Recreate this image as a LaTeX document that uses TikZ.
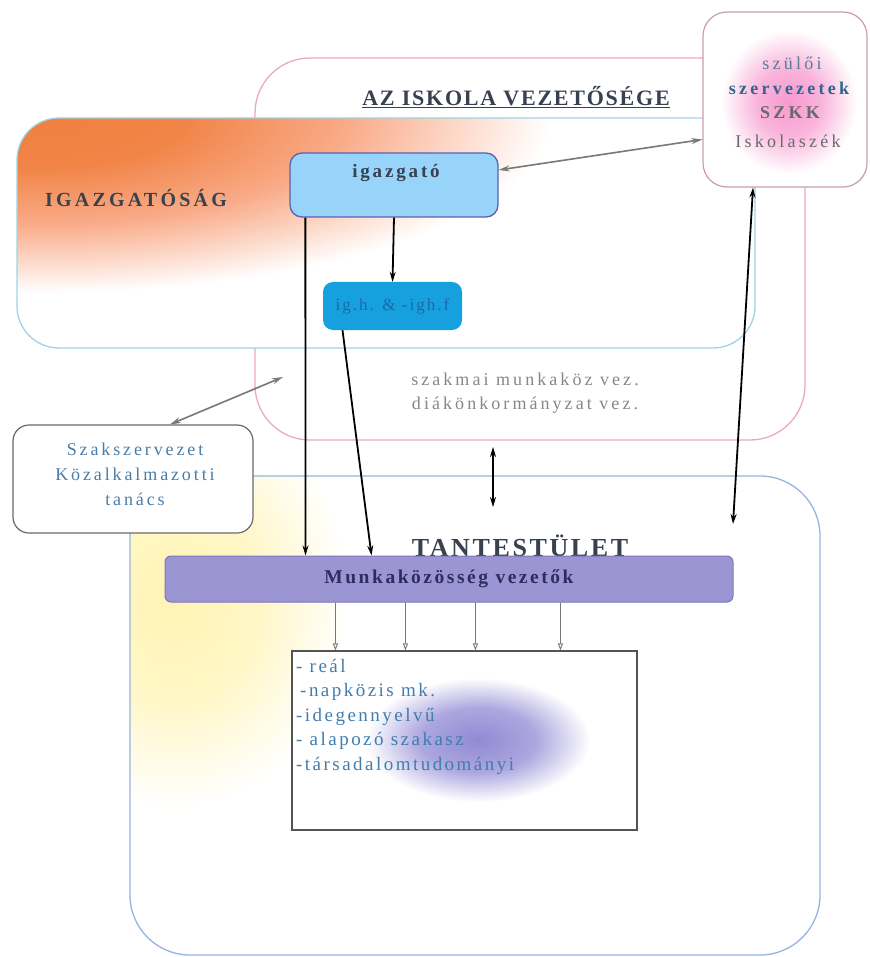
\documentclass[tikz,border=0pt]{standalone}
\usepackage{fontspec}
\setmainfont{Liberation Serif}
\usetikzlibrary{arrows.meta}
\definecolor{pinkline}{RGB}{236,170,185}
\definecolor{cyanline}{RGB}{160,212,228}
\definecolor{blueline}{RGB}{150,180,225}
\definecolor{orng}{RGB}{240,128,64}
\definecolor{salmon}{RGB}{249,170,135}
\definecolor{igazfill}{RGB}{152,212,250}
\definecolor{igazdraw}{RGB}{95,95,175}
\definecolor{ighfill}{RGB}{22,160,222}
\definecolor{ightext}{RGB}{30,105,165}
\definecolor{munkafill}{RGB}{156,149,211}
\definecolor{munkadraw}{RGB}{125,118,185}
\definecolor{munkatext}{RGB}{45,45,95}
\definecolor{graytext}{RGB}{105,105,110}
\definecolor{bluetext}{RGB}{65,125,175}
\definecolor{darktext}{RGB}{55,65,80}
\definecolor{pinkglow}{RGB}{245,120,190}
\definecolor{purpleglow}{RGB}{145,138,212}
\definecolor{yellowglow}{RGB}{255,244,180}
\definecolor{arrowgray}{RGB}{120,120,120}
\pgfdeclareradialshading{orfade}{\pgfpoint{0bp}{0bp}}{color(0bp)=(orng); color(7bp)=(orng!90!salmon); color(15bp)=(salmon); color(25bp)=(white); color(50bp)=(white)}
\pgfdeclareradialshading{pinkfade}{\pgfpoint{0bp}{0bp}}{color(0bp)=(pinkglow!75); color(12bp)=(pinkglow!55); color(25bp)=(white); color(50bp)=(white)}
\pgfdeclareradialshading{purplefade}{\pgfpoint{0bp}{0bp}}{color(0bp)=(purpleglow); color(13bp)=(purpleglow!75); color(25bp)=(white); color(50bp)=(white)}
\pgfdeclareradialshading{yellowfade}{\pgfpoint{0bp}{0bp}}{color(0bp)=(yellowglow); color(12bp)=(yellowglow!75); color(25bp)=(white); color(50bp)=(white)}
\tikzset{
  sidebox/.style={draw=#1, line width=1.2pt, fill=white, rounded corners=16pt},
  darr/.style={line width=1.8pt, black, -{Stealth[length=10pt,width=6pt]}},
  ddarr/.style={line width=1.8pt, black, {Stealth[length=10pt,width=6pt]}-{Stealth[length=10pt,width=6pt]}},
  garr/.style={line width=1.6pt, arrowgray, {Stealth[open,length=11pt,width=6pt]}-{Stealth[open,length=11pt,width=6pt]}},
  smallarr/.style={line width=0.9pt, arrowgray, -{Triangle[open,length=7pt,width=5pt]}},
  lbl/.style={inner sep=0pt},
}
\newcommand{\wfont}[2]{\fontsize{#1}{#1}\selectfont\addfontfeature{LetterSpace=#2}}
\begin{document}
\begin{tikzpicture}[x=1pt,y=-1pt]
\useasboundingbox[fill=white] (0,0) rectangle (869,957);
% --- AZ ISKOLA VEZETOSEGE (pink) frame
\draw[pinkline, line width=1.3pt, rounded corners=55pt] (255,58) rectangle (805,440);
% --- TANTESTULET (blue) frame with yellow glow
\begin{scope}
  \clip[rounded corners=60pt] (130,476) rectangle (820,955);
  \shade[shading=yellowfade] (175,600) ellipse (175pt and 210pt);
\end{scope}
\draw[blueline, line width=1.3pt, rounded corners=60pt] (130,476) rectangle (820,955);
% --- IGAZGATOSAG frame with orange glow
\begin{scope}
  \clip[rounded corners=42pt] (17,118) rectangle (755,348);
  \fill[white] (17,118) rectangle (755,348);
  \shade[shading=orfade] (40,118) ellipse (510pt and 175pt);
\end{scope}
\draw[cyanline, line width=1.3pt, rounded corners=42pt] (17,118) rectangle (755,348);
% named coordinates on frames
\coordinate (pinkA) at (283,377);
\coordinate (pinkB) at (493,447);
\coordinate (blueA) at (493,507);
\coordinate (blueB) at (733,524);
% --- szuloi box
\node[sidebox=pinkline!70!gray, minimum width=164pt, minimum height=175pt, rounded corners=24pt] (szulo) at (785,99.5) {};
\shade[shading=pinkfade] (789,102) ellipse (68pt and 72pt);
\node[lbl, text=bluetext!70!gray, font=\wfont{18}{18}] at (792,63) {szülői};
\node[lbl, text=bluetext!80!black, font=\wfont{18}{18}\bfseries] at (789,88) {szervezetek};
\node[lbl, text=graytext, font=\wfont{18}{18}\bfseries] at (790,113) {SZKK};
\node[lbl, text=graytext, font=\wfont{18}{18}] at (788,141) {Iskolaszék};
% --- titles
\node[lbl, text=darktext, font=\wfont{22}{8}\bfseries] at (516,97) {\underline{AZ ISKOLA VEZETŐSÉGE}};
\node[lbl, text=darktext, font=\wfont{20}{16}\bfseries] at (136,198) {IGAZGATÓSÁG};
% --- igazgato
\node[draw=igazdraw, line width=1.3pt, fill=igazfill, rounded corners=12pt, minimum width=208pt, minimum height=64pt] (igaz) at (394,185) {};
\node[lbl, text=darktext, font=\wfont{19}{15}\bfseries] at (396,173) {igazgató};
% --- ig.h. box
\node[fill=ighfill, rounded corners=10pt, minimum width=139pt, minimum height=48pt, text=ightext, font=\wfont{17}{12}] (igh) at (392.5,306) {ig.h. \& -igh.f};
% --- union box
\node[sidebox=graytext, minimum width=240pt, minimum height=108pt] (union) at (133,479) {};
\node[lbl, text=bluetext!85!gray, align=center, font=\wfont{18}{16}] at (135,474) {Szakszervezet\\[7pt]Közalkalmazotti\\[7pt]tanács};
% --- middle text
\node[lbl, text=graytext!80, align=center, font=\wfont{18}{17}] at (525,393) {szakmai munkaköz vez.\\[6pt]diákönkormányzat vez.};
% --- TANTESTULET and Munkakozosseg vezetok
\node[lbl, text=darktext, font=\wfont{26}{10}\bfseries] at (520,546) {TANTESTÜLET};
\node[draw=munkadraw, line width=1pt, fill=munkafill, rounded corners=6pt, minimum width=568pt, minimum height=46pt, text=munkatext, font=\wfont{19.5}{13}\bfseries] (munka) at (449,579) {Munkaközösség vezetők};
% --- list box
\node[draw=graytext!80!black, line width=1.1pt, fill=white, minimum width=345pt, minimum height=179pt] (lst) at (464.5,740.5) {};
\shade[shading=purplefade] (478,740) ellipse (112pt and 62pt);
\node[lbl, text=bluetext, anchor=north west, align=left, font=\wfont{19}{13}] at (296,659) {- reál\\[5.5pt]\hspace*{4pt}-napközis mk.\\[5.5pt]-idegennyelvű\\[5.5pt]- alapozó szakasz\\[5.5pt]-társadalomtudományi};
% --- connectors
\draw[darr] (igaz.south) -- (igh.north);
\draw[darr] ([xshift=16pt]igaz.south west) -- ([xshift=141pt]munka.north west);
\draw[darr] ([xshift=-50pt]igh.south) -- ([xshift=207pt]munka.north west);
\draw[garr] ([yshift=15pt]igaz.east) -- ([yshift=-40pt]szulo.west);
\draw[garr] ([xshift=37pt]union.north) -- (pinkA);
\draw[ddarr] (pinkB) -- (blueA);
\draw[ddarr] ([xshift=-32pt]szulo.south) -- (blueB);
\draw[smallarr] ([xshift=171pt]munka.south west) -- ([xshift=44pt]lst.north west);
\draw[smallarr] ([xshift=241pt]munka.south west) -- ([xshift=114pt]lst.north west);
\draw[smallarr] ([xshift=311pt]munka.south west) -- ([xshift=184pt]lst.north west);
\draw[smallarr] ([xshift=396pt]munka.south west) -- ([xshift=269pt]lst.north west);
\end{tikzpicture}
\end{document}
